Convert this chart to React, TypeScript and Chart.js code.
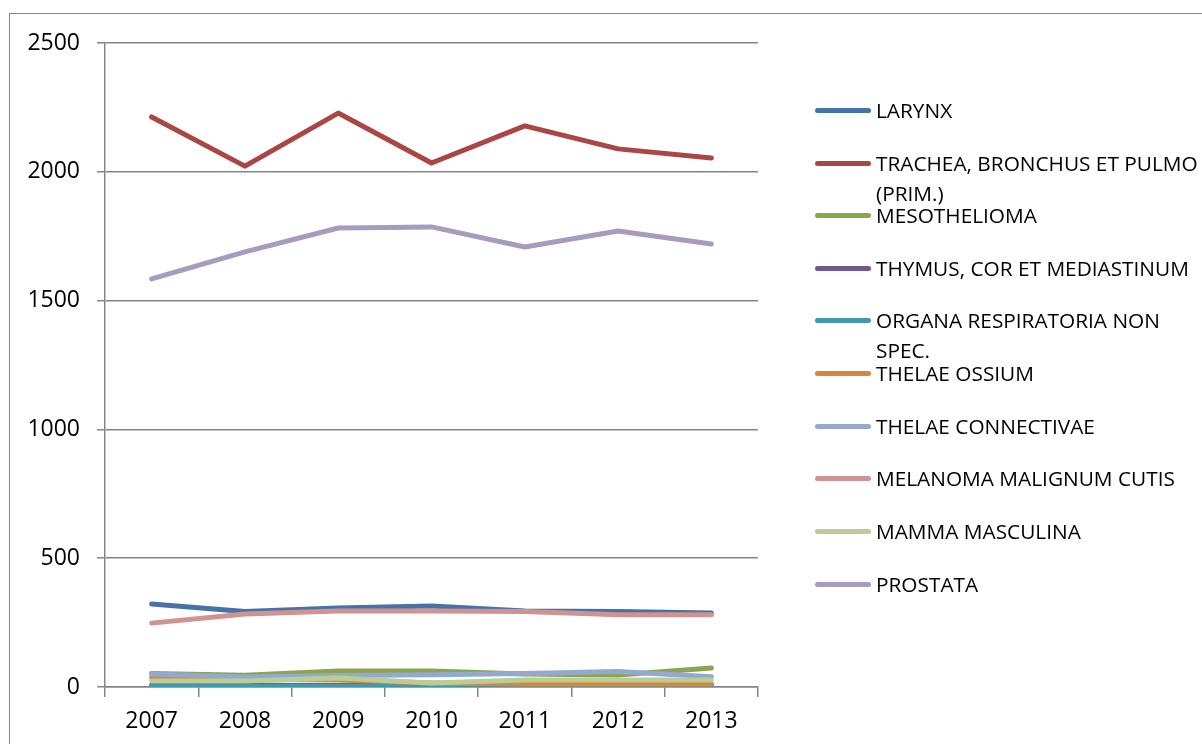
import React, { useEffect, useRef } from "react";
import { Chart, registerables } from "chart.js";

Chart.register(...registerables);

const years = ["2007", "2008", "2009", "2010", "2011", "2012", "2013"];
const yTicks = [0, 500, 1000, 1500, 2000, 2500];

const larynx = [322, 293, 307, 314, 295, 293, 287];
const trachea = [2213, 2022, 2228, 2034, 2178, 2089, 2054];
const mesothelioma = [52, 46, 62, 62, 50, 47, 74];
const thymus = [8, 7, 6, 8, 7, 8, 6];
const organa = [3, 3, 3, 3, 3, 3, 3];
const ossium = [37, 31, 27, 16, 12, 12, 12];
const connectivae = [50, 39, 45, 48, 52, 60, 40];
const melanoma = [248, 283, 295, 295, 293, 280, 280];
const mamma = [23, 23, 35, 16, 27, 27, 27];
const prostata = [1584, 1689, 1782, 1786, 1708, 1770, 1720];

const seriesNames = [
  "LARYNX",
  "TRACHEA, BRONCHUS ET PULMO (PRIM.)",
  "MESOTHELIOMA",
  "THYMUS, COR ET MEDIASTINUM",
  "ORGANA RESPIRATORIA NON SPEC.",
  "THELAE OSSIUM",
  "THELAE CONNECTIVAE",
  "MELANOMA MALIGNUM CUTIS",
  "MAMMA MASCULINA",
  "PROSTATA",
];
const legendLines = [
  ["LARYNX"],
  ["TRACHEA, BRONCHUS ET PULMO", "(PRIM.)"],
  ["MESOTHELIOMA"],
  ["THYMUS, COR ET MEDIASTINUM"],
  ["ORGANA RESPIRATORIA NON", "SPEC."],
  ["THELAE OSSIUM"],
  ["THELAE CONNECTIVAE"],
  ["MELANOMA MALIGNUM CUTIS"],
  ["MAMMA MASCULINA"],
  ["PROSTATA"],
];
const seriesValues = [larynx, trachea, mesothelioma, thymus, organa, ossium, connectivae, melanoma, mamma, prostata];
const colors = [
  "#4572A7",
  "#AA4643",
  "#89A54E",
  "#71588F",
  "#4198AF",
  "#DB843D",
  "#93A9CF",
  "#D19392",
  "#B9CD96",
  "#A99BBD",
];

const FONT = "'Open Sans', 'DejaVu Sans', sans-serif";

export default function App() {
  const ref = useRef<HTMLCanvasElement | null>(null);

  useEffect(() => {
    if (!ref.current) return;
    const chart = new Chart(ref.current, {
      type: "line",
      data: {
        labels: years,
        datasets: seriesValues.map((vals, i) => ({
          label: seriesNames[i],
          data: vals,
          borderColor: colors[i],
          backgroundColor: colors[i],
          borderWidth: 5,
          borderCapStyle: "round" as const,
          borderJoinStyle: "round" as const,
          pointRadius: 0,
          tension: 0,
          fill: false,
          order: 20 - i,
        })),
      },
      options: {
        animation: false,
        responsive: false,
        layout: { padding: { left: 0, right: 444, top: 43, bottom: 0 } },
        plugins: { legend: { display: false }, tooltip: { enabled: false } },
        scales: {
          x: {
            offset: true,
            grid: {
              display: true,
              drawOnChartArea: false,
              drawTicks: true,
              tickLength: 10,
              color: "#868686",
              lineWidth: 1.5,
              offset: true,
            },
            border: { display: true, color: "#868686", width: 1.5 },
            ticks: { color: "#000", font: { family: FONT, size: 23 }, padding: 11 },
            afterFit: (s: any) => {
              s.height = 744 - 687;
            },
          },
          y: {
            min: 0,
            max: 2500,
            afterBuildTicks: (s: any) => {
              s.ticks = yTicks.map((v) => ({ value: v }));
            },
            grid: {
              color: "#868686",
              lineWidth: 1.5,
              drawTicks: true,
              tickLength: 8,
            },
            border: { display: true, color: "#868686", width: 1.5 },
            ticks: {
              color: "#000",
              font: { family: FONT, size: 23 },
              padding: 17,
              callback: (v: any) => String(v),
            },
            afterFit: (s: any) => {
              s.width = 105;
            },
          },
        },
      },
    });
    return () => chart.destroy();
  }, []);

  const legendTops = [110, 163, 215, 268, 320, 373, 426, 478, 531, 584];

  return (
    <div
      style={{
        position: "fixed",
        left: 0,
        top: 0,
        width: 1202,
        height: 744,
        overflow: "hidden",
        background: "#fff",
      }}
    >
      <div
        style={{
          position: "absolute",
          left: 9,
          top: 13,
          width: 1400,
          height: 900,
          border: "1.5px solid #868686",
          boxSizing: "border-box",
        }}
      />
      <canvas
        ref={ref}
        width={1202}
        height={744}
        style={{ position: "absolute", left: 0, top: 0, display: "block" }}
      />
      {legendLines.map((lines, i) => (
        <div key={i} style={{ position: "absolute", left: 0, top: 0 }}>
          <div
            style={{
              position: "absolute",
              left: 815,
              top: legendTops[i] - 2.5,
              width: 56,
              height: 5,
              borderRadius: 3,
              background: colors[i],
            }}
          />
          {lines.map((t, j) => (
            <div
              key={j}
              style={{
                position: "absolute",
                left: 876,
                top: legendTops[i] - 15 + j * 30,
                height: 30,
                lineHeight: "30px",
                whiteSpace: "nowrap",
                fontFamily: FONT,
                fontSize: 20.8,
                color: "#000",
              }}
            >
              {t}
            </div>
          ))}
        </div>
      ))}
    </div>
  );
}
